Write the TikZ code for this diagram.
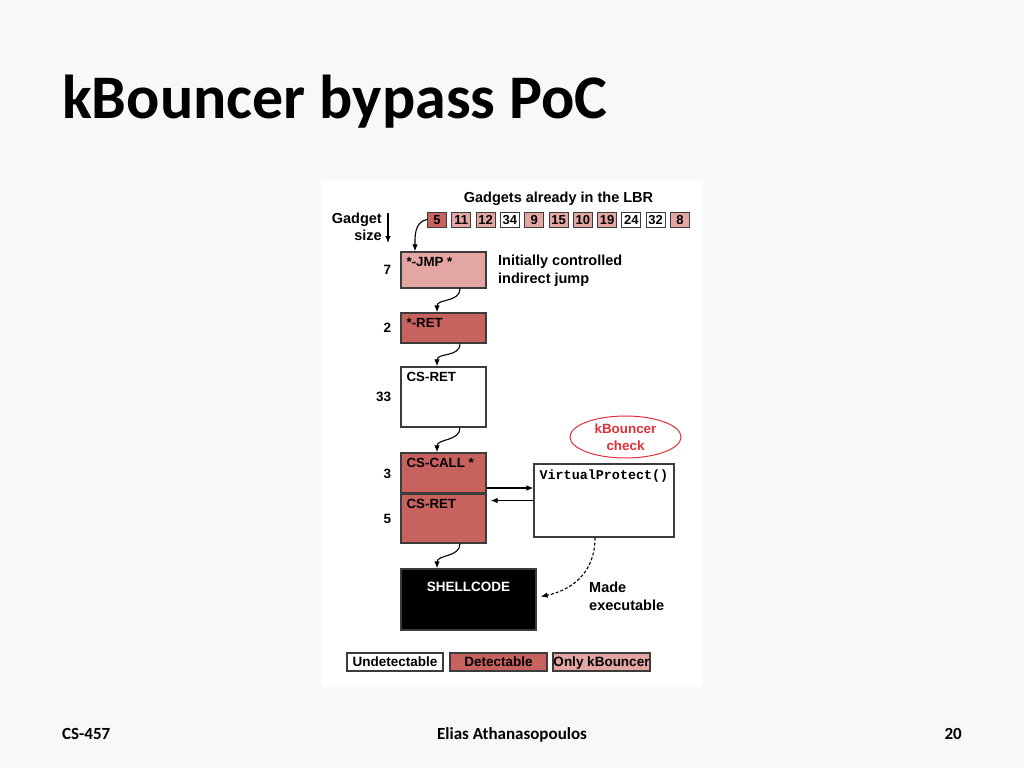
\documentclass[tikz,border=0pt]{standalone}
\usepackage{fontspec}
\newfontfamily\titlefont{Carlito}
\newfontfamily\diagfont{Liberation Sans}
\newfontfamily\codefont{Liberation Mono}
\usepackage{tikz}
\usetikzlibrary{positioning,shapes.geometric,arrows.meta}
\usepackage{xcolor}
\definecolor{slidebg}{HTML}{F8F8F8}
\definecolor{detect}{HTML}{C8625F}
\definecolor{kbonly}{HTML}{E3A6A3}
\definecolor{boxline}{HTML}{3C3C3C}
\definecolor{checkred}{HTML}{E0303A}

\tikzset{
  gadget/.style={draw=boxline, line width=1.2pt, minimum width=85pt, inner sep=0pt},
  boxtext/.style={anchor=north west, inner sep=0pt, xshift=6pt, yshift=-6pt,
    font=\diagfont\bfseries\fontsize{13.3}{16}\selectfont},
  lbr/.style={draw=boxline, line width=0.9pt, minimum width=19pt, minimum height=15pt,
    inner sep=1pt, text height=9.3pt, text depth=0pt,
    font=\diagfont\bfseries\fontsize{13}{15}\selectfont},
  keybox/.style={draw=boxline, line width=1.2pt, minimum width=96pt, minimum height=18pt,
    inner sep=0pt, text height=9.7pt, text depth=1.5pt,
    font=\diagfont\bfseries\fontsize{13.5}{15}\selectfont},
  notetxt/.style={inner sep=0pt, align=left, font=\diagfont\bfseries\fontsize{14.5}{18}\selectfont},
  sizenum/.style={inner sep=0pt, font=\diagfont\bfseries\fontsize{13.5}{16}\selectfont},
  flow/.style={-{Latex[length=7pt,width=5.5pt]}, line width=1.1pt},
}

\begin{document}
\begin{tikzpicture}[x=1pt,y=-1pt]
			\fill[slidebg] (0,0) rectangle (1024,768);
			\useasboundingbox (0,0) rectangle (1024,768);
			\fill[white] (321,179) rectangle (703,687);
			% title and footer
			\node[anchor=base west, inner sep=0pt, font=\titlefont\bfseries\fontsize{62}{70}\selectfont] (title) at (62,118) {kBouncer bypass PoC};
			\node[anchor=base west, inner sep=0pt, font=\titlefont\bfseries\fontsize{17}{20}\selectfont] (course) at (62,739) {CS-457};
			\node[anchor=base, inner sep=0pt, font=\titlefont\bfseries\fontsize{17}{20}\selectfont] (author) at (512,739) {Elias Athanasopoulos};
			\node[anchor=base east, inner sep=0pt, font=\titlefont\bfseries\fontsize{17}{20}\selectfont] (page) at (962,739) {20};
			% LBR
			\node[notetxt, anchor=base] (lbrtitle) at (558.5,202) {Gadgets already in the LBR};
			\foreach \Num/\Fill [count=\i] in {5/detect,11/kbonly,12/kbonly,34/white,9/kbonly,15/kbonly,10/kbonly,19/kbonly,24/white,32/white,8/kbonly}
				\node[lbr, fill=\Fill] (g\i) at ({437+(\i-1)*24.3},219.5) {\Num};
			\node[notetxt, anchor=base east] (gadgetlbl) at (382,223) {Gadget};
			\node[notetxt, anchor=base east] (sizelbl) at (382,240) {size};
			\coordinate (sizetop) at (388,213);
			\coordinate (sizebot) at (388,243);
			\draw[flow] (sizetop) -- (sizebot);
			% gadget chain
			\node[gadget, fill=kbonly, minimum height=36pt, label={[boxtext]north west:*-JMP *}] (jmp) at (443.5,270) {};
			\node[gadget, fill=detect, minimum height=30pt, label={[boxtext]north west:*-RET}] (ret) at (443.5,328) {};
			\node[gadget, fill=white, minimum height=60pt, label={[boxtext]north west:CS-RET}] (csret) at (443.5,397) {};
			\node[gadget, fill=detect, minimum height=41pt, label={[boxtext]north west:CS-CALL *}] (cscall) at (443.5,473.5) {};
			\node[gadget, fill=detect, minimum height=49pt, label={[boxtext]north west:CS-RET}] (csret2) at (443.5,518.5) {};
			\draw[boxline, line width=2pt] (csret2.north west) -- (csret2.north east);
			\node[gadget, fill=black, minimum width=135pt, minimum height=61pt,
				label={[anchor=north, inner sep=0pt, yshift=-13pt, text=white, font=\diagfont\bfseries\fontsize{13.5}{16}\selectfont]north:SHELLCODE}] (shell) at (468.5,599.5) {};
			\node[gadget, fill=white, minimum width=140pt, minimum height=73pt,
				label={[boxtext, font=\codefont\bfseries\fontsize{13.4}{15}\selectfont]north west:VirtualProtect()}] (vp) at (604,500.5) {};
			\node[ellipse, draw=checkred, line width=1pt, minimum width=111pt, minimum height=42pt, inner sep=0pt,
				align=center, text=checkred, font=\diagfont\bfseries\fontsize{13.4}{17}\selectfont] (check) at (625.5,437) {kBouncer\\check};
			% gadget sizes
			\node[sizenum, left=9pt of jmp] (n7) {7};
			\node[sizenum, left=9pt of ret] (n2) {2};
			\node[sizenum, left=9pt of csret] (n33) {33};
			\node[sizenum, left=9pt of cscall] (n3) {3};
			\node[sizenum, left=9pt of csret2] (n5) {5};
			% notes
			\node[notetxt, anchor=north west] (initnote) at (498,254.6) {Initially controlled\\indirect jump};
			\node[notetxt, anchor=north west] (madenote) at (589,581.6) {Made\\executable};
			% arrows
			\draw[flow] (g1.west) to[out=190,in=90] ([xshift=-28.5pt]jmp.north);
			\draw[flow] ([xshift=16.5pt]jmp.south) .. controls +(0,14) and +(0,-14) .. ([xshift=-6.5pt]ret.north);
			\draw[flow] ([xshift=16.5pt]ret.south) .. controls +(0,14) and +(0,-14) .. ([xshift=-6.5pt]csret.north);
			\draw[flow] ([xshift=16.5pt]csret.south) .. controls +(0,14) and +(0,-14) .. ([xshift=-6.5pt]cscall.north);
			\draw[flow] ([xshift=16.5pt]csret2.south) .. controls +(0,14) and +(0,-14) .. ([xshift=-31.5pt]shell.north);
			\coordinate (callout) at ([yshift=12.5pt]vp.west);
			\draw[flow] (callout -| cscall.east) -- (callout);
			\draw[flow, shorten >=4pt] (vp.west) -- (vp.west -| csret2.east);
			\coordinate (vpout) at ([xshift=-9pt]vp.south);
			\draw[flow, dash pattern=on 3pt off 2pt] (vpout) .. controls +(0,40) and +(25,-5) .. ([yshift=3pt,xshift=4pt]shell.east);
			\node[keybox, fill=white] (undet) at (395,662) {Undetectable};
			\node[keybox, fill=detect, minimum width=97pt] (det) at (498.5,662) {Detectable};
			\node[keybox, fill=kbonly, minimum width=97pt] (kbo) at (601.5,662) {Only kBouncer};
		\end{tikzpicture}
\end{document}
